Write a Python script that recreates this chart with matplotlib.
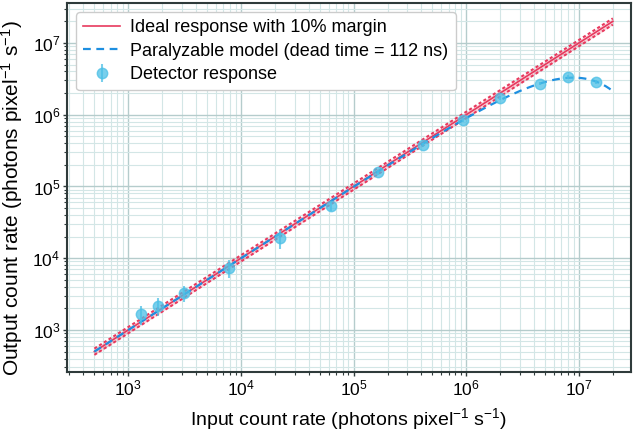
import numpy as np
import matplotlib
matplotlib.use("Agg")
import matplotlib.pyplot as plt

plt.rcParams['font.family'] = ['Liberation Sans', 'DejaVu Sans']
plt.rcParams['mathtext.fontset'] = 'custom'
plt.rcParams['mathtext.rm'] = 'Liberation Sans'
plt.rcParams['mathtext.it'] = 'Liberation Sans'
plt.rcParams['mathtext.bf'] = 'Liberation Sans'

# Data
input_rate = [1305, 1850, 3150, 7900, 22400, 62500, 163000, 411000,
              931000, 1.99e6, 4.5e6, 7.98e6, 1.42e7]
output_rate = [1670, 2160, 3280, 7300, 19100, 53500, 159000, 378000,
               845000, 1.71e6, 2.69e6, 3.36e6, 2.86e6]
rel_err = [0.30, 0.28, 0.25, 0.28, 0.30, 0.14, 0.08, 0.07,
           0.06, 0.05, 0.05, 0.05, 0.05]
ideal_x = [500, 2e7]
margin = 0.10
dead_time_ns = 112
model_range = [500, 2e7]
x_limits = [287, 2.9e7]
y_limits = [260, 3.6e7]

red = '#e8395e'
blue = '#1e8fe0'
cyan = '#4cc0e6'

fig = plt.figure(figsize=(6.4, 4.32), dpi=100)
ax = fig.add_axes([0.105, 0.139, 0.881, 0.854])
ax.set_xscale('log')
ax.set_yscale('log')

ix = np.array(ideal_x, dtype=float)
ax.fill_between(ix, ix * (1 - margin), ix * (1 + margin), color=red, alpha=0.22, lw=0, zorder=2)
ax.plot(ix, ix * (1 - margin), color=red, lw=1.5, ls=(0, (1.5, 1.2)), zorder=3)
ax.plot(ix, ix * (1 + margin), color=red, lw=1.5, ls=(0, (1.5, 1.2)), zorder=3)
ax.plot(ix, ix, color=red, lw=1.2, zorder=3, label='Ideal response with 10% margin')

tau = dead_time_ns * 1e-9
mx = np.logspace(np.log10(model_range[0]), np.log10(model_range[1]), 300)
ax.plot(mx, mx * np.exp(-mx * tau), color=blue, lw=1.6, ls=(0, (3.5, 2.5)), zorder=4,
        label='Paralyzable model (dead time = 112 ns)')

xo = np.array(input_rate)
yo = np.array(output_rate)
yerr = yo * np.array(rel_err)
ax.errorbar(xo, yo, yerr=yerr, fmt='o', color=cyan, ms=7.5, alpha=0.75, elinewidth=1.5,
            capsize=0, zorder=5, label='Detector response')

ax.set_xlim(x_limits)
ax.set_ylim(y_limits)

ax.grid(True, which='major', color='#b5cccc', lw=1.0, zorder=0)
ax.grid(True, which='minor', color='#d3e6e6', lw=0.8, zorder=0)
ax.set_axisbelow(True)

for s in ax.spines.values():
    s.set_color('#2f3b3b')
    s.set_linewidth(1.5)
ax.tick_params(which='major', direction='out', length=3, width=1, color='#2f3b3b', labelsize=12.5, pad=2)
ax.tick_params(which='minor', direction='out', length=2, width=0.8, color='#2f3b3b')

ax.set_xlabel('Input count rate (photons pixel$^{-1}$ s$^{-1}$)', fontsize=14, labelpad=5)
ax.set_ylabel('Output count rate (photons pixel$^{-1}$ s$^{-1}$)', fontsize=15, labelpad=3)
ax.yaxis.set_label_coords(-0.075, 0.47)

leg = ax.legend(loc='upper left', fontsize=13, frameon=True, fancybox=True,
                framealpha=1, edgecolor='#cccccc', handlelength=2.0, borderpad=0.4,
                labelspacing=0.35, handletextpad=0.6)

fig.savefig('out.png', dpi=100)
